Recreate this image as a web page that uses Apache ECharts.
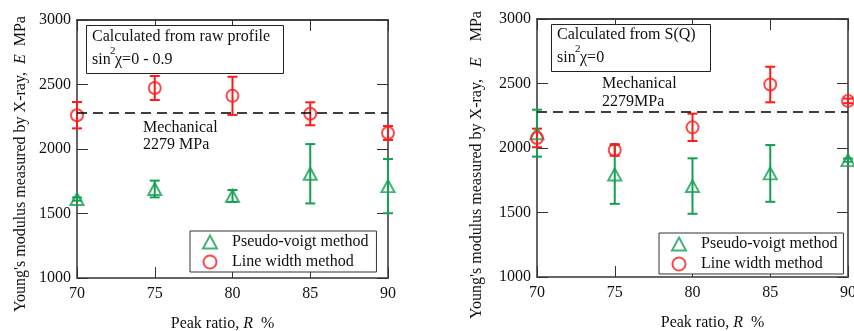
<!DOCTYPE html>
<html><head><meta charset="utf-8">
<script src="https://cdn.jsdelivr.net/npm/echarts@6/dist/echarts.min.js"></script>
<style>html,body{margin:0;padding:0;background:#fff}#c{width:854px;height:331px}</style>
</head><body><div id="c"></div>
<script>
const peakRatio = [70, 75, 80, 85, 90];
const xTicks = [70, 75, 80, 85, 90];
const yTicks = [1000, 1500, 2000, 2500, 3000];
const mechanical = 2279;
// Left panel: calculated from raw profile
const leftPV = [1612, 1690, 1636, 1808, 1712];
const leftPVErr = [12, 65, 46, 230, 210];
const leftLW = [2262, 2473, 2412, 2273, 2124];
const leftLWErr = [102, 93, 148, 89, 54];
// Right panel: calculated from S(Q)
const rightPV = [2115, 1795, 1705, 1803, 1906];
const rightPVErr = [182, 228, 215, 220, 12];
const rightLW = [2078, 1985, 2160, 2492, 2365];
const rightLWErr = [72, 45, 106, 138, 18];

const FONT = 'Liberation Serif';
const GREEN = '#13a050';
const RED = '#ff1a1a';
const AX = '#666';

const chart = echarts.init(document.getElementById('c'), null, {renderer: 'canvas'});

function pts(vals) { return peakRatio.map((x, i) => [x, vals[i]]); }
function errs(vals, e) { return peakRatio.map((x, i) => [x, vals[i], e[i]]); }

function errBar(color) {
  return function (params, api) {
    const x = api.value(0), y = api.value(1), e = api.value(2);
    const hi = api.coord([x, y + e]);
    const lo = api.coord([x, y - e]);
    const w = 5;
    const st = {stroke: color, lineWidth: 2};
    return {type: 'group', children: [
      {type: 'line', shape: {x1: hi[0], y1: hi[1], x2: lo[0], y2: lo[1]}, style: st},
      {type: 'line', shape: {x1: hi[0] - w, y1: hi[1], x2: hi[0] + w, y2: hi[1]}, style: st},
      {type: 'line', shape: {x1: lo[0] - w, y1: lo[1], x2: lo[0] + w, y2: lo[1]}, style: st}
    ]};
  };
}

const tickLbl = {fontFamily: FONT, fontSize: 16, color: '#111'};

function xAxes(gi, namePad) {
  return [
    {gridIndex: gi, type: 'value', min: 70, max: 90, interval: 5, position: 'bottom',
     axisLine: {lineStyle: {color: AX, width: 2}},
     axisTick: {inside: true, length: 11, lineStyle: {color: '#333', width: 1}},
     axisLabel: Object.assign({margin: 8, formatter: v => xTicks.includes(v) ? String(v) : ''}, tickLbl),
     splitLine: {show: false},
     name: 'Peak ratio, {i|R}  %', nameLocation: 'middle', nameGap: 38,
     nameTextStyle: {fontFamily: FONT, fontSize: 16, color: '#111', padding: namePad,
       rich: {i: {fontFamily: FONT, fontSize: 16, fontStyle: 'italic', color: '#111'}}}},
    {gridIndex: gi, type: 'value', min: 70, max: 90, interval: 5, position: 'top',
     axisLine: {lineStyle: {color: '#444', width: 2}},
     axisTick: {inside: true, length: 11, lineStyle: {color: '#333', width: 1}},
     axisLabel: {show: false}, splitLine: {show: false}}
  ];
}
function yAxes(gi, nameTxt, gap, namePad) {
  return [
    {gridIndex: gi, type: 'value', min: 1000, max: 3000, interval: 500, position: 'left',
     axisLine: {show: true, lineStyle: {color: AX, width: 2}},
     axisTick: {show: true, inside: true, length: 11, lineStyle: {color: '#333', width: 1}},
     axisLabel: Object.assign({margin: 6, formatter: v => yTicks.includes(v) ? String(v) : ''}, tickLbl),
     splitLine: {show: false},
     name: nameTxt, nameLocation: 'middle', nameGap: gap,
     nameTextStyle: {fontFamily: FONT, fontSize: 16, color: '#111', padding: namePad,
       rich: {i: {fontFamily: FONT, fontSize: 16, fontStyle: 'italic', color: '#111'}}}},
    {gridIndex: gi, type: 'value', min: 1000, max: 3000, interval: 500, position: 'right',
     axisLine: {show: true, lineStyle: {color: AX, width: 2}},
     axisTick: {show: true, inside: true, length: 11, lineStyle: {color: '#333', width: 1}},
     axisLabel: {show: false}, splitLine: {show: false}}
  ];
}

function seriesFor(gi, pv, pvErr, lw, lwErr) {
  const xi = gi * 2, yi = gi * 2;
  return [
    {type: 'custom', xAxisIndex: xi, yAxisIndex: yi, renderItem: errBar(GREEN),
     data: errs(pv, pvErr), silent: true, z: 3, clip: false,
     encode: {x: 0, y: [1]}},
    {type: 'custom', xAxisIndex: xi, yAxisIndex: yi, renderItem: errBar(RED),
     data: errs(lw, lwErr), silent: true, z: 3, clip: false,
     encode: {x: 0, y: [1]}},
    {name: 'Pseudo-voigt method', type: 'scatter', xAxisIndex: xi, yAxisIndex: yi,
     symbol: 'triangle', symbolSize: [13, 12], clip: false, z: 4,
     itemStyle: {color: 'rgba(0,0,0,0)', borderColor: GREEN, borderWidth: 2},
     data: pts(pv)},
    {name: 'Line width method', type: 'scatter', xAxisIndex: xi, yAxisIndex: yi,
     symbol: 'circle', symbolSize: 12, clip: false, z: 4,
     itemStyle: {color: 'rgba(0,0,0,0)', borderColor: RED, borderWidth: 2},
     data: pts(lw),
     markLine: {silent: true, symbol: 'none', animation: false,
       lineStyle: {color: '#000', type: [10, 6], width: 1.6},
       label: {show: false}, data: [{yAxis: mechanical}]}}
  ];
}

function legendAt(left, top, padR) {
  return {left: left, top: top, orient: 'vertical', selectedMode: false,
    data: ['Pseudo-voigt method', 'Line width method'],
    itemWidth: 14, itemHeight: 13, itemGap: 4, padding: [3, padR, 2, 12],
    borderColor: '#333', borderWidth: 1, backgroundColor: '#fff', z: 10,
    textStyle: {fontFamily: FONT, fontSize: 16, color: '#111', lineHeight: 16, padding: [0, 0, 0, 10]}};
}

function txt(x, y, s, size) {
  return {type: 'text', x: x, y: y, z: 100,
    style: {text: s, fontFamily: FONT, fontSize: size || 16, fill: '#111', verticalAlign: 'middle', align: 'left'}};
}

chart.setOption({
  animation: false,
  backgroundColor: '#fff',
  grid: [
    {left: 77, top: 20, width: 311, height: 258, outerBoundsMode: 'none', containLabel: false},
    {left: 537, top: 19, width: 311, height: 258, outerBoundsMode: 'none', containLabel: false}
  ],
  xAxis: xAxes(0, [0, 20, 0, 0]).concat(xAxes(1, [0, 0, 0, 40])),
  yAxis: yAxes(0, "Young's modulus measured by X-ray,  {i|E}  MPa", 48, [0, 30, 0, 0])
    .concat(yAxes(1, "Young's modulus measured by X-ray,   {i|E}    MPa", 52, [0, 34, 0, 0])),
  legend: [legendAt(190, 231, 8), legendAt(659, 233, 6)],
  series: seriesFor(0, leftPV, leftPVErr, leftLW, leftLWErr)
    .concat(seriesFor(1, rightPV, rightPVErr, rightLW, rightLWErr)),
  graphic: [
    {type: 'rect', z: 90, shape: {x: 86.5, y: 25.5, width: 197, height: 48},
     style: {fill: '#fff', stroke: '#222', lineWidth: 1}},
    txt(92, 37, 'Calculated from raw profile'),
    txt(92, 60, 'sin'),
    txt(110, 51, '2', 11),
    txt(115, 60, 'χ=0 - 0.9'),
    txt(143, 128, 'Mechanical'),
    txt(143, 145, '2279 MPa'),
    {type: 'rect', z: 90, shape: {x: 551.5, y: 24.5, width: 159, height: 47},
     style: {fill: '#fff', stroke: '#222', lineWidth: 1}},
    txt(557, 35, 'Calculated from S(Q)'),
    txt(557, 58, 'sin'),
    txt(575, 49, '2', 11),
    txt(580, 58, 'χ=0'),
    txt(602, 84, 'Mechanical'),
    txt(602, 102, '2279MPa')
  ]
});
</script></body></html>
